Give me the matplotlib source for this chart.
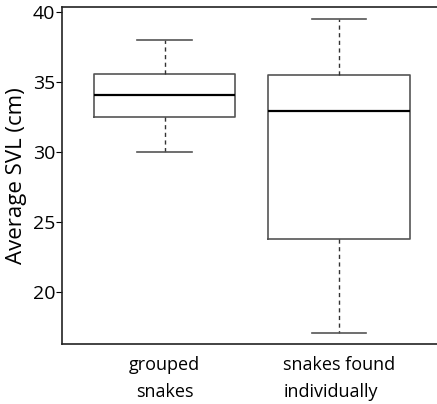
import matplotlib.pyplot as plt

plt.rcParams['font.family'] = ['Open Sans', 'DejaVu Sans']

groups = ['grouped\nsnakes', 'snakes found\nindividually']
whisker_low = [30.0, 17.1]
q1 = [32.5, 23.8]
median = [34.05, 32.95]
q3 = [35.6, 35.5]
whisker_high = [38.0, 39.5]

stats = []
for i in range(len(groups)):
    stats.append({'whislo': whisker_low[i], 'q1': q1[i], 'med': median[i],
                  'q3': q3[i], 'whishi': whisker_high[i], 'label': groups[i]})

fig = plt.figure(figsize=(4.37, 4.04), dpi=100)
ax = fig.add_axes([62 / 437, 60 / 404, 1 - 62 / 437, 337 / 404])

ax.bxp(stats, positions=[1, 2], widths=0.81, showfliers=False,
       boxprops=dict(color='#555555', linewidth=1.2),
       medianprops=dict(color='black', linewidth=1.6),
       whiskerprops=dict(color='#333333', linewidth=1.0, linestyle=(0, (3, 2.5))),
       capprops=dict(color='#555555', linewidth=1.2),
       capwidths=0.31)

ax.set_ylim(16.3, 40.36)
ax.set_xlim(0.413, 2.56)
ax.set_yticks([20, 25, 30, 35, 40])
ax.spines['right'].set_visible(False)
for s in ['left', 'top', 'bottom']:
    ax.spines[s].set_color('#222222')
    ax.spines[s].set_linewidth(1.2)
ax.tick_params(axis='y', length=4, labelsize=14, pad=1)
ax.tick_params(axis='x', length=0, labelsize=13, pad=9)
xl = ax.get_xticklabels()
xl[0].set_multialignment('center')
xl[0].set_x(0.97)
xl[1].set_multialignment('left')
for lbl in xl:
    lbl.set_linespacing(1.6)
ax.set_ylabel('Average SVL (cm)', fontsize=16, labelpad=4)

fig.savefig('out.png', dpi=100)
